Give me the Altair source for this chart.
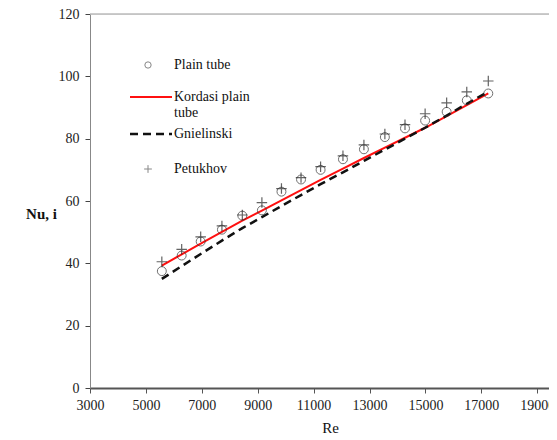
import altair as alt
import pandas as pd

re_vals = [5570, 6280, 6960, 7720, 8450, 9150, 9850, 10550, 11250, 12050,
           12800, 13550, 14270, 14990, 15760, 16480, 17250]
plain_tube = [37.5, 42.5, 47.0, 50.8, 55.3, 57.0, 63.0, 66.9, 70.0, 73.4,
              76.6, 80.5, 83.3, 85.8, 88.6, 92.3, 94.5]
petukhov = [40.5, 44.5, 48.5, 52.0, 55.5, 59.5, 64.0, 67.5, 71.0, 74.5,
            78.0, 81.5, 84.5, 88.0, 91.5, 95.0, 98.5]
kordasi = [39.3, 42.9, 46.3, 50.1, 53.7, 56.9, 60.2, 63.5, 66.8, 70.4,
           73.8, 77.1, 80.3, 83.5, 87.2, 90.8, 94.5]
gnielinski = [35.0, 39.1, 43.0, 47.3, 51.3, 54.8, 58.4, 61.9, 65.4, 69.2,
              72.9, 76.5, 80.0, 83.5, 87.4, 91.2, 95.1]
x_ticks = [3000, 5000, 7000, 9000, 11000, 13000, 15000, 17000, 19000]
y_ticks = [0, 20, 40, 60, 80, 100, 120]

df = pd.DataFrame({"Re": re_vals, "plain": plain_tube, "petukhov": petukhov,
                   "kordasi": kordasi, "gnielinski": gnielinski})

FONT = "Liberation Serif"
PLUS = "M-1,0L1,0M0,-1L0,1"

xs = alt.Scale(domain=[3000, 19422], nice=False, zero=False)
ys = alt.Scale(domain=[0, 120], nice=False)

x_enc = alt.X("Re:Q", scale=xs, axis=alt.Axis(
    values=x_ticks, title="Re", grid=False, format="d",
    domainColor="#555555", domainWidth=2, tickColor="#555555", tickSize=5,
    labelFont=FONT, labelFontSize=14, labelColor="#222222", labelPadding=5,
    titleFont=FONT, titleFontSize=15, titleFontWeight="normal", titleColor="#111111",
    titlePadding=8, titleX=240, labelFlush=False))

y_axis = alt.Axis(
    values=y_ticks, title="Nu, i", grid=False,
    domainColor="#888888", domainWidth=1, tickColor="#444444", tickSize=5,
    labelFont=FONT, labelFontSize=14, labelColor="#222222", labelPadding=6,
    titleFont=FONT, titleFontSize=15, titleFontWeight="bold", titleColor="#111111",
    titleAngle=0, titleX=-49, titleY=199, titleAlign="center", titleBaseline="middle")

base = alt.Chart(df)

top_rule = alt.Chart(alt.Data(values=[{"v": 120}])).mark_rule(
    color="#bbbbbb", strokeWidth=1.5).encode(y=alt.Y("v:Q", scale=ys, axis=y_axis))

red = base.mark_line(color="#ff1010", strokeWidth=2).encode(
    x=x_enc, y=alt.Y("kordasi:Q", scale=ys, axis=y_axis))
dash = base.mark_line(color="#111111", strokeWidth=2.5, strokeDash=[8, 5]).encode(
    x=x_enc, y=alt.Y("gnielinski:Q", scale=ys, axis=y_axis))
circ = base.mark_point(shape="circle", size=80, color="#333333", strokeWidth=1,
                       filled=False).encode(
    x=x_enc, y=alt.Y("plain:Q", scale=ys, axis=y_axis))
plus = base.mark_point(shape=PLUS, size=110, color="#222222", strokeWidth=1.2,
                       filled=False).encode(
    x=x_enc, y=alt.Y("petukhov:Q", scale=ys, axis=y_axis))

one = alt.Data(values=[{"a": 1}])
lg_circ = alt.Chart(one).mark_point(shape="circle", size=40, color="#555555",
                                    strokeWidth=1).encode(x=alt.value(58), y=alt.value(51))
lg_red = alt.Chart(one).mark_rule(color="#ff1010", strokeWidth=2).encode(
    x=alt.value(40), x2=alt.value(82), y=alt.value(83))
lg_dash = alt.Chart(one).mark_rule(color="#111111", strokeWidth=2.5, strokeDash=[8, 5]).encode(
    x=alt.value(40), x2=alt.value(82), y=alt.value(120))
lg_plus = alt.Chart(one).mark_point(shape=PLUS, size=60, color="#555555",
                                    strokeWidth=1).encode(x=alt.value(58), y=alt.value(155))

labels = pd.DataFrame({
    "t": ["Plain tube", "Kordasi plain", "tube", "Gnielinski", "Petukhov"],
    "py": [51, 83, 99, 120, 155],
})
lg_text = alt.Chart(labels).mark_text(font=FONT, fontSize=14, color="#111111",
                                      align="left", baseline="middle").encode(
    x=alt.value(84), y=alt.Y("py:Q", scale=None), text="t:N")

chart = alt.layer(top_rule, red, dash, circ, plus, lg_circ, lg_red, lg_dash, lg_plus,
                  lg_text).properties(
    width=459, height=374,
    autosize=alt.AutoSizeParams(type="none"),
    padding={"left": 82, "top": 6, "right": 0, "bottom": 52},
).configure_view(stroke=None).configure(background="white")

chart.save("out.html", embed_options={"renderer": "svg", "actions": False})
